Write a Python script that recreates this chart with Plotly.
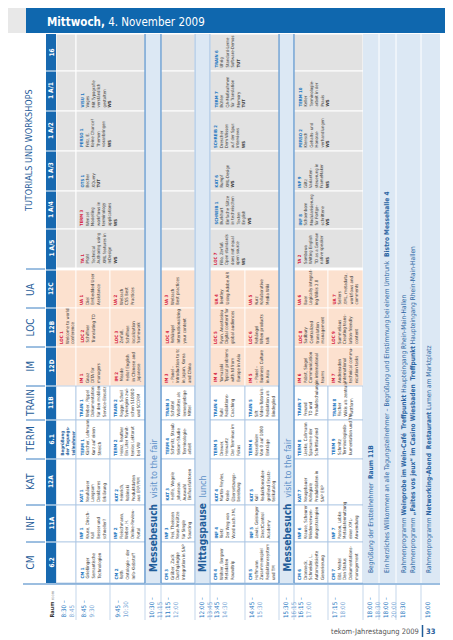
import plotly.graph_objects as go

# ---------------- data ----------------
day_title = "Mittwoch,"
date_title = "4. November 2009"

time_slots = [("8:30 –", "8:45"), ("8:45 –", "9:30"), ("9:45 –", "10:30"), ("10:30 –", "11:15"),
              ("11:15 –", "12:00"), ("12:00 –", "13:45"), ("13:45 –", "14:30"), ("14:45 –", "15:30"),
              ("15:30 –", "16:15"), ("16:15 –", "17:00"), ("17:15 –", "18:00"), ("18:00 –", "18:30"),
              ("18:00 –", "20:00"), ("18:30", ""), ("19:00", "")]

rooms = ["16", "1 A/1", "1 A/2", "1 A/3", "1 A/4", "1 A/5",
         "12C", "12B", "12D", "11B", "6.1", "12A", "11A", "6.2"]
tutorial_label = "TUTORIALS UND WORKSHOPS"
track_labels = ["UA", "LOC", "IM", "TRAIN", "TERM", "KAT", "INF", "CM"]
peach_tracks = ["UA", "LOC", "IM"]

# tutorials: morning (8:45-10:30), afternoon 1 (13:45-15:30), afternoon 2 (16:15-18:00)
tutorial_sessions = [
    [None, ["TRAIN 6", "Uhrig", "Standard-Lerne", "Software-Demos", "TUT"], None],
    [["VISU 1", "Voges", "Mit Typografie", "verständlich", "gestalten", "WS"],
     ["TERM 7", "Bühler", "QA-Maßnahmen", "für Translation", "Memory", "TUT"],
     ["TERM 10", "Keller", "Terminologie-", "arbeit in der", "Praxis", "WS"]],
    [["PERSO 1", "Fritz, E.", "Keine Chance?", "Themen", "voranbringen", "WS"],
     ["SCHREIB 2", "Drescher", "Dem Wissen", "auf der Spur:", "Interviews", "WS"],
     ["PERSO 2", "Klensch", "Gehalts- und", "Honorar-", "verhandlungen", "WS"]],
    [["OTS 1", "Becher", "XQuery", "TUT"],
     ["KAT 6", "Rumpf", "XML-Design", "WS"],
     ["INF 9", "Götz", "Varianten-", "steuerung in", "FrameMaker", "WS"]],
    [["TERM 3", "Wenzel", "Modelling", "workflows in", "terminology", "applications", "WS"],
     ["SCHREIB 1", "Burkhart", "Einfache Sätze", "in technischen", "Texten", "English", "WS"],
     ["INF 8", "Schoenborn", "Modularisierung", "für Fortge-", "schrittene", "WS"]],
    [["TA 1", "Pfohl", "Technical", "Authoring using", "XML features in", "InDesign", "WS"],
     ["LOC 7", "Fillo, Zerfaß", "Open standards", "does not equal", "open source", "WS"],
     ["TA 2", "Sombowa", "Writing English", "TD as a German", "native speaker", "WS"]],
]

# sessions: 8:30, 8:45, 9:45, 11:15, 13:45, 14:45, 16:15, 17:15
ua_sessions = [None, ["UA 1", "Diel", "Embedded User", "Assistance"], ["UA 2", "Welzach", "CSS Best", "Practices"],
               ["UA 3", "Welzach", "Best practices"], ["UA 4", "Bentley", "Using Adobe AIR"],
               ["UA 5", "Kurz", "Kollaborative", "Media Wiki"], ["UA 6", "Baer", "Logically integrat-", "ing Wikis 2.0"],
               ["UA 7", "Sellers", "XML, metadata,", "workflows and", "comments"]]
loc_sessions = [["LOC 1", "Welcome to world", "conference"], ["LOC 2", "Schiffner", "Translating TD"],
                ["LOC 3", "Zerfaß,", "Schiffner:", "localization", "framework"],
                ["LOC 4", "Rehängel", "Internationalizing", "your content"],
                ["LOC 5", "Ryan, Anastasiou", "Digital content for", "global audiences"],
                ["LOC 6", "Rehängel", "When products", "talk"],
                ["LOC 8", "Sadbury", "Centralized", "translation", "management"],
                ["LOC 9", "Summeliaus", "Creating trans-", "lation-friendly", "content"]]
im_sessions = [None, ["IM 1", "Gnaz", "DITA for", "managers"],
               ["IM 2", "Meade", "Hello! English", "in Chinese and", "Japanese"],
               ["IM 3", "– Panel –", "Introduction to tc", "in Japan, Korea", "and China"],
               ["IM 4", "Yamazaki", "Typical problems", "with td from", "Europe in Asia"],
               ["IM 5", "– Panel –", "Business Culture", "in Asia"],
               ["IM 6", "Pabst, Siegel", "Communication", "in international", "teams"],
               ["IM 7", "Andreeaden", "International", "technical commu-", "nication tasks"]]
train_sessions = [None, ["TRAIN 1", "Weber, Pippel", "Dokumentation", "für den mobilen", "Service-Einsatz"],
                  ["TRAIN 2", "Rogge, Scheil", "Synergien zwi-", "schen S1000D", "und SCORM"],
                  ["TRAIN 3", "Schlötel", "Websites als", "lernergiebige", "Mittel"],
                  ["TRAIN 4", "Ruhl", "Redaktions-", "Coaching"],
                  ["TRAIN 5", "Sift", "Video-Tutorials:", "Redaktion als", "Bindeglied"],
                  ["TRAIN 7", "Freund", "TD und", "Produktschulung"],
                  ["TRAIN 8", "Fischer", "Wikis als zentrale", "Plattform"]]
term_sessions = [["Begrüßung", "der Tagungs-", "teilnehmer"],
                 ["TERM 1", "Kärcher, Lehmann", "Kurz auf einen", "Streich"],
                 ["TERM 2", "Heinz, Reuther", "Ein Liter Manit-", "tenlos Lektorat", "bei VW"],
                 ["TERM 4", "Schmitz, Straub", "tekom-Studie", "Terminologie-", "arbeit"],
                 ["TERM 5", "Drewer,", "Herwartz", "Der Terminus im", "Fokus"],
                 ["TERM 6", "Kesselheim", "Von 0 auf 1000", "Einträge"],
                 ["TERM 8", "Lieske, Callmann", "Sparsame der", "Schrittlaufend"],
                 ["TERM 9", "Schmitz", "Terminologiedo-", "kumentation und TM"]]
kat_sessions = [None, ["KAT 1", "Neuhäuser", "Langsam", "Denkbares", "Erklärung"],
                ["KAT 2", "Heinrich,", "Robinski", "Produktdaten", "aus ERP/PIM"],
                ["KAT 3", "Hellfe, Wegele", "Johanson", "Auswahl", "Einflussfaktoren"],
                ["KAT 4", "Martin-Freyles,", "Kreile", "Übersetzungs-", "bereitung"],
                ["KAT 5", "Kull", "Redaktionsüber-", "greifend Ersatz-", "teilkatalog"],
                ["KAT 7", "Neugebauer", "Kollegiale", "Produktdaten in", "SAP ERP"], None]
inf_sessions = [None, ["INF 1", "Kruse, Dirsch-", "Kall", "Besser und", "schneller?"],
                ["INF 2", "Fleischmann,", "Weber, H.", "Online-Review-", "Portal"],
                ["INF 3", "Frei, Theissen", "Neue Ansätze", "für Single", "Sourcing"],
                ["INF 4", "Rietz", "Der Weg von", "Word nach XML"],
                ["INF 5", "Lewis, Geisinger", "DirectControl", "Academy"],
                ["INF 6", "Krause, Scheurer", "Wiederverwen-", "dungsstrategien"],
                ["INF 7", "Parson, Lobke", "Metadatennutzung", "einer XML-", "Anwendung"]]
cm_sessions = [None, ["CM 1", "Grießinger", "Semantische", "Technologien"],
               ["CM 2", "Roth", "Ontologie – der", "Info-Klebstoff"],
               ["CM 3", "Gräber, Zack", "Durchgängige", "Integration in SAP"],
               ["CM 4", "Wöhler, Bergner", "Metadaten", "Roundtrip"],
               ["CM 5", "Hoffmann", "Zusammenspiel", "Redaktionssystem", "und TM"],
               ["CM 6", "Dronneck,", "Schneider, L.", "Automatisierte", "Generierung"],
               ["CM 7", "Eibl, Meitel", "Den Status", "Dokumentations-", "management"]]
track_sessions = [ua_sessions, loc_sessions, im_sessions, train_sessions,
                  term_sessions, kat_sessions, inf_sessions, cm_sessions]

english_codes = ["UA", "LOC", "IM", "TA", "TERM 3"]
welcome_code = "Begrüßung"

break_titles = ["Messebesuch", "Mittagspause", "Messebesuch"]
break_subtitles = ["visit to the fair", "lunch", "visit to the fair"]

evening_texts = [
    ["Begrüßung der Erstteilnehmer  <b>Raum 11B</b>"],
    ["Ein herzliches Willkommen an alle Tagungsteilnehmer – Begrüßung und Einstimmung bei einem Umtrunk  <b>Bistro Messehalle 4</b>"],
    ["Rahmenprogramm <b>Weinprobe im Wein-Café</b>  <b>Treffpunkt</b> Haupteingang Rhein-Main-Hallen",
     "Rahmenprogramm <b>„Faites vos jeux“ im Casino Wiesbaden</b>  <b>Treffpunkt</b> Haupteingang Rhein-Main-Hallen"],
    ["Rahmenprogramm <b>Networking-Abend</b>  <b>Restaurant</b> Lumen am Marktplatz"],
]
footer_text = "tekom-Jahrestagung 2009"
page_number = "33"

# ---------------- layout constants ----------------
FONT = "Liberation Sans Narrow, DejaVu Sans Condensed, Arial Narrow, sans-serif"
W, H = 453, 640
GRID_X0 = 48
col_w = [20, 34, 35, 16, 34, 15, 35, 34, 15, 34, 35, 16, 17, 25, 19]
GRID_Y0 = 26
row_h = [37, 40, 40, 40, 38, 39, 38, 39, 39, 34, 39, 46, 37, 41]
N_TUT = 6
SECTION_GAP = 2
session_cols = [0, 1, 2, 4, 6, 7, 9, 10]
tutorial_cols = [(1, 2), (6, 7), (9, 10)]
tutorial_blank_cols = [(0, 0), (4, 4)]
break_cols = [3, 5, 8]
evening_cols = [11, 12, 13, 14]

BLUE_DARK = "#1769b0"
BLUE_LINE = "#3a7fc2"
BLUE_LIGHT = "#dce8f4"
GREY_CELL = "#e2e2e2"
PEACH = "#fce1cf"
RED = "#d61f45"
BLUE_CODE = "#1f78c1"
TEXT = "#3a3a3a"
LABEL_BLUE = "#1f5c99"

col_edges = [GRID_X0]
for w in col_w:
    col_edges.append(col_edges[-1] + w)
row_top, row_bot = [], []
y = GRID_Y0
for i, h in enumerate(row_h):
    row_top.append(y)
    row_bot.append(y + h)
    y += h + (SECTION_GAP if i == N_TUT - 1 else 0)
GRID_X1 = col_edges[-1]
GRID_Y1 = row_bot[-1]

shapes = []
annotations = []


def rect(x0, x1, y0, y1, fill, line=None, lw=0):
    shapes.append(dict(type="rect", xref="x", yref="y", x0=x0, x1=x1, y0=y0, y1=y1,
                       fillcolor=fill, line=dict(color=line or fill, width=lw), layer="below"))


def seg(x0, x1, y0, y1, color, lw=1):
    shapes.append(dict(type="line", xref="x", yref="y", x0=x0, x1=x1, y0=y0, y1=y1,
                       line=dict(color=color, width=lw), layer="above"))


def text(x, y, t, size, color, angle=-90, xa="left", ya="bottom", align="left", bold=False):
    annotations.append(dict(x=x, y=y, xref="x", yref="y", text=("<b>%s</b>" % t) if bold else t,
                            showarrow=False, textangle=angle, xanchor=xa, yanchor=ya, align=align,
                            borderpad=0, font=dict(family=FONT, size=size, color=color)))


def code_color(code):
    for c in english_codes:
        if code == c or code.startswith(c + " "):
            return RED
    return BLUE_CODE


def session_html(lines):
    if lines[0] == welcome_code:
        return "<b>" + "<br>".join(lines) + "</b>"
    parts = ["<b><span style='color:%s'>%s</span></b>" % (code_color(lines[0]), lines[0])]
    for l in lines[1:]:
        parts.append("<b>%s</b>" % l if l in ("WS", "TUT") else l)
    return "<br>".join(parts)


# ---------------- header ----------------
rect(0, 18, 0, 25, "#e8e8e8")
rect(18, W, 0, 25, "#0f67ae")
text(38, 13.5, "<b>%s</b> %s" % (day_title, date_title), 11.5, "white", angle=0, xa="left", ya="middle")

# ---------------- tutorial section ----------------
for r in range(N_TUT):
    for (a, b) in tutorial_blank_cols + tutorial_cols:
        rect(col_edges[a], col_edges[b + 1], row_top[r], row_bot[r], GREY_CELL, "white", 1)
    for k, sess in enumerate(tutorial_sessions[r]):
        if sess:
            a = tutorial_cols[k][0]
            text(col_edges[a] + 2, row_bot[r] - 2, session_html(sess), 4.3, TEXT)

# ---------------- session section ----------------
for t, sessions in enumerate(track_sessions):
    r = N_TUT + t
    fill = PEACH if track_labels[t] in peach_tracks else "white"
    line = "white" if fill == PEACH else "#a9c4e2"
    for k, c in enumerate(session_cols):
        rect(col_edges[c], col_edges[c + 1], row_top[r], row_bot[r], fill, line, 0.8)
        sess = sessions[k]
        if sess:
            text(col_edges[c] + 2, row_bot[r] - 2, session_html(sess), 4.4,
                 "#1f5f9e" if sess[0] == welcome_code else TEXT)

# ---------------- breaks & evening ----------------
for c in break_cols:
    rect(col_edges[c], col_edges[c + 1], GRID_Y0, GRID_Y1, BLUE_LIGHT)
rect(col_edges[evening_cols[0]], col_edges[evening_cols[-1] + 1], GRID_Y0, GRID_Y1, BLUE_LIGHT)
for c in evening_cols[1:]:
    seg(col_edges[c], col_edges[c], GRID_Y0, GRID_Y1, "white", 1)
for c in [3, 4, 8, 9]:
    seg(col_edges[c], col_edges[c], GRID_Y0, GRID_Y1, BLUE_LINE, 1)
for c in [5, 6]:
    seg(col_edges[c], col_edges[c], GRID_Y0, GRID_Y1, "#8fb4dc", 0.8)

for i, c in enumerate(break_cols):
    xc = (col_edges[c] + col_edges[c + 1]) / 2
    html = ("<b><span style='color:%s'>%s</span></b>  <span style='color:#5b8fc7;font-size:9px'>%s</span>"
            % (LABEL_BLUE, break_titles[i], break_subtitles[i]))
    text(xc, GRID_Y1 - 10, html, 10, LABEL_BLUE, xa="center")

for i, c in enumerate(evening_cols):
    x0 = col_edges[c]
    text(x0 + 3, GRID_Y1 - 9, "<br>".join(evening_texts[i]), 6.6, "#2a64a2")

# ---------------- room column ----------------
rect(38, GRID_X0, GRID_Y0, GRID_Y1, BLUE_DARK)
for r in range(len(rooms)):
    if r > 0:
        seg(38, GRID_X0, row_top[r], row_top[r], "white", 1)
    text(43, (row_top[r] + row_bot[r]) / 2, rooms[r], 6.5, "white", xa="center", ya="middle", bold=True)

# ---------------- category labels ----------------
text(21, (row_top[0] + row_bot[N_TUT - 1]) / 2, tutorial_label, 9, LABEL_BLUE, xa="center", ya="middle")
for t, lab in enumerate(track_labels):
    r = N_TUT + t
    text(22, (row_top[r] + row_bot[r]) / 2, lab, 10, LABEL_BLUE, xa="center", ya="middle")
    seg(18, 37, row_top[r] - (1 if t == 0 else 0), row_top[r] - (1 if t == 0 else 0), BLUE_LINE, 1)

# ---------------- time row ----------------
seg(15, GRID_X1, GRID_Y1 + 1, GRID_Y1 + 1, BLUE_LINE, 1.2)
for i, (a, b) in enumerate(time_slots):
    x0 = col_edges[i]
    if i > 0:
        seg(x0, x0, GRID_Y1 + 2, GRID_Y1 + 37, "#b6cde6", 0.8)
    html = "<span style='color:%s'>%s</span>" % (BLUE_CODE, a)
    if b:
        html += "<br><span style='color:#7aa7d6'>%s</span>" % b
    text(x0 + 2, GRID_Y1 + 36, html, 6.3, BLUE_CODE)
text(39, GRID_Y1 + 36, "<b>Raum</b> <span style='color:#9a9a9a;font-size:4px'>room</span>", 5.5, "#333")

# ---------------- footer ----------------
text(412, 623, footer_text, 7.5, "#555", angle=0, xa="right", ya="middle")
seg(414.5, 414.5, 617, 629, "#1f5c99", 1.5)
text(417, 623, "<b>%s</b>" % page_number, 7.5, "#1f5c99", angle=0, xa="left", ya="middle")

fig = go.Figure()
fig.update_layout(
    width=W, height=H, margin=dict(l=0, r=0, t=0, b=0),
    paper_bgcolor="white", plot_bgcolor="white",
    xaxis=dict(range=[0, W], visible=False, fixedrange=True),
    yaxis=dict(range=[H, 0], visible=False, fixedrange=True),
    shapes=shapes, annotations=annotations, showlegend=False,
)
fig.write_html("out.html")
